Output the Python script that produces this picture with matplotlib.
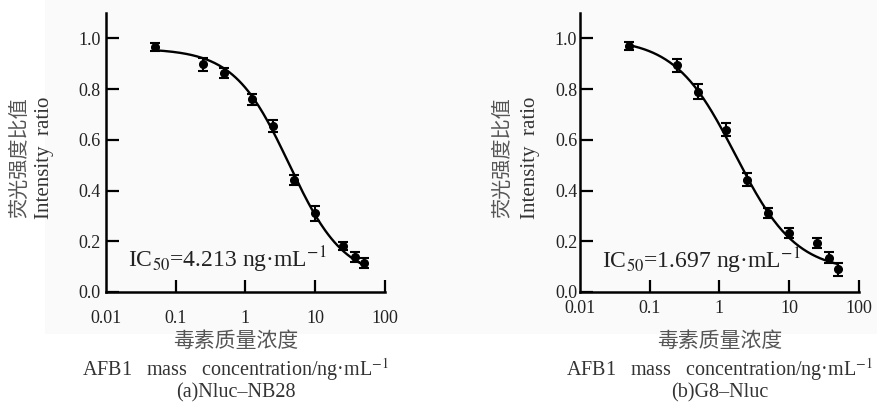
import numpy as np
import matplotlib
matplotlib.use("Agg")
import matplotlib.pyplot as plt
from matplotlib.patches import Rectangle
from matplotlib.transforms import offset_copy

plt.rcParams['font.family'] = ['Liberation Serif', 'DejaVu Sans']
plt.rcParams['mathtext.fontset'] = 'stix'

# 浓度 (ng/mL)
conc = [0.05, 0.25, 0.5, 1.25, 2.5, 5, 10, 25, 37.5, 50]

# (a) Nluc-NB28
ratio_a = [0.966, 0.897, 0.862, 0.759, 0.655, 0.443, 0.311, 0.182, 0.137, 0.113]
err_a = [0.015, 0.025, 0.02, 0.02, 0.025, 0.02, 0.03, 0.015, 0.02, 0.02]
fit_a = dict(top=0.96, bottom=0.05, ic50=4.213, hill=1.1)

# (b) G8-Nluc
ratio_b = [0.970, 0.894, 0.790, 0.640, 0.443, 0.311, 0.232, 0.192, 0.136, 0.090]
err_b = [0.015, 0.025, 0.03, 0.025, 0.025, 0.02, 0.02, 0.02, 0.02, 0.025]
fit_b = dict(top=1.0, bottom=0.08, ic50=1.697, hill=1.0)

x_ticks = [0.01, 0.1, 1, 10, 100]
x_labels = ['0.01', '0.1', '1', '10', '100']
y_ticks = [0.0, 0.2, 0.4, 0.6, 0.8, 1.0]

fig = plt.figure(figsize=(8.77, 4.04), dpi=100)
# fondo gris muy claro de la imagen original
fig.patches.append(Rectangle((45 / 877, 1 - 334 / 404), 1, 334 / 404,
                             transform=fig.transFigure, facecolor='#fafafa',
                             edgecolor='none', zorder=-10))


def four_pl(x, p):
    return p['bottom'] + (p['top'] - p['bottom']) / (1 + (x / p['ic50']) ** p['hill'])


def panel(left, ratio, err, fit, xpad, ypad):
    ax = fig.add_axes([left, 1 - 292 / 404, 0.318, 279 / 404])
    ax.set_facecolor('none')
    ax.set_xscale('log')
    ax.set_xlim(0.01, 100)
    ax.set_ylim(0, 1.1)
    for s in ['top', 'right']:
        ax.spines[s].set_visible(False)
    for s in ['left', 'bottom']:
        ax.spines[s].set_linewidth(1.8)
    ax.set_xticks(x_ticks[1:])
    ax.set_xticklabels(x_labels[1:])
    ax.minorticks_off()
    ax.set_yticks(y_ticks)
    ax.set_yticklabels([f'{v:.1f}' for v in y_ticks])
    ax.tick_params(direction='in', length=9, width=1.6, labelsize=13,
                   labelcolor='#222222')
    ax.tick_params(axis='x', pad=xpad)
    ax.tick_params(axis='y', pad=ypad)
    # la etiqueta 0.01 queda en la esquina, sin marca
    tr = offset_copy(ax.get_xaxis_transform(), fig=fig, y=-xpad, units='points')
    ax.text(x_ticks[0], 0, x_labels[0], transform=tr, fontsize=13,
            color='#222222', ha='center', va='top')
    xs = np.logspace(np.log10(conc[0]), np.log10(conc[-1]), 200)
    ax.plot(xs, four_pl(xs, fit), color='black', lw=1.7, zorder=2)
    ax.errorbar(conc, ratio, yerr=err, fmt='o', color='black', ms=5.5,
                elinewidth=1.5, capsize=3.5, capthick=1.5, zorder=3)
    return ax


ax1 = panel(106 / 877, ratio_a, err_a, fit_a, 13, 4)
ax2 = panel(580 / 877, ratio_b, err_b, fit_b, 6, 2)

ax1.text(0.079, 0.09, 'IC$_{50}$=4.213 ng·mL$^{-1}$', transform=ax1.transAxes,
         fontsize=17, color='#222222', ha='left', va='baseline')
ax2.text(0.078, 0.086, 'IC$_{50}$=1.697 ng·mL$^{-1}$', transform=ax2.transAxes,
         fontsize=17, color='#222222', ha='left', va='baseline')

for cx_zh, cx_en in [(20, 45), (503, 530)]:
    fig.text(cx_zh / 877, 1 - 158 / 404, '荧光强度比值', rotation=90,
             ha='center', va='center', fontsize=14.5, color='#555555',
             family=['Noto Sans CJK SC', 'DejaVu Sans'])
    fig.text(cx_en / 877, 1 - 158 / 404, 'Intensity  ratio', rotation=90,
             ha='center', va='center', fontsize=15, color='#333333')

for cx, cap in [(236, '(a)Nluc–NB28'), (720, '(b)G8–Nluc')]:
    fig.text(cx / 877, 1 - 341 / 404, '毒素质量浓度', ha='center', va='center',
             fontsize=15, color='#555555',
             family=['Noto Sans CJK SC', 'DejaVu Sans'])
    fig.text(cx / 877, 1 - 370 / 404,
             'AFB1   mass   concentration/ng·mL$^{-1}$', ha='center',
             va='center', fontsize=14.5, color='#333333')
    fig.text(cx / 877, 1 - 393 / 404, cap, ha='center', va='center',
             fontsize=14.5, color='#333333')

fig.savefig('out.png', dpi=100, facecolor='white')
